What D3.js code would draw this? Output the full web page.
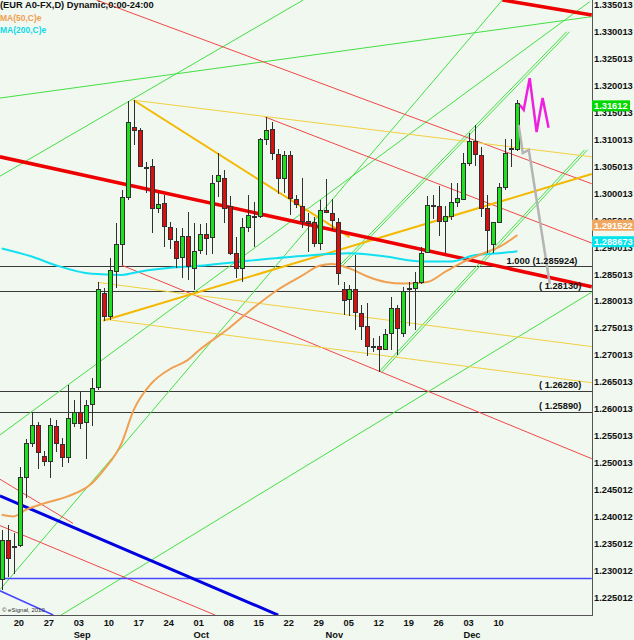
<!DOCTYPE html>
<html lang="en">
<head>
<meta charset="UTF-8">
<title>EUR A0-FX daily</title>
<style>
  body { margin: 0; background: #f0f8f0; }
  svg { display: block; font-family: "Liberation Sans", Arial, sans-serif; }
  .lab { font-size: 9.3px; font-weight: bold; fill: #111; }
</style>
</head>
<body>
<script src="https://cdn.jsdelivr.net/npm/d3@7"></script>
<script>
var W = 634, H = 640, PR = 592, PB = 615;

// daily candles, 16 Aug - 14 Dec
var opens  = [1.2278,1.2351,1.2338,1.2341,1.2468,1.2531,1.2564,1.2507,1.2497,1.2562,1.2529,1.2505,1.2567,1.2588,1.2569,1.2603,1.2634,1.2809,1.2766,1.2850,
              1.2900,1.2987,1.3117,1.3110,1.3043,1.3044,1.2967,1.2975,1.2931,1.2905,1.2876,1.2915,1.2855,1.2889,1.2917,1.2912,1.3016,1.3021,1.2969,1.2883,
              1.2855,1.2931,1.2950,1.2951,1.3094,1.3113,1.3066,1.3021,1.3064,1.2983,1.2970,1.2942,1.2940,1.2902,1.2962,1.2956,1.2940,1.2816,1.2798,1.2815,
              1.2772,1.2747,1.2709,1.2710,1.2705,1.2734,1.2781,1.2734,1.2815,1.2818,1.2829,1.2884,1.2969,1.2970,1.2942,1.2952,1.2977,1.2983,1.3050,1.3090,
              1.3064,1.2967,1.2899,1.2940,1.3006,1.3075,1.3076];
var highs  = [1.2369,1.2379,1.2364,1.2487,1.2538,1.2589,1.2570,1.2516,1.2577,1.2574,1.2540,1.2639,1.2611,1.2627,1.2611,1.2651,1.2829,1.2819,1.2874,1.2939,
              1.3001,1.3165,1.3167,1.3115,1.3053,1.3058,1.2995,1.2991,1.2942,1.2930,1.2930,1.2960,1.2940,1.2937,1.2939,1.3029,1.3069,1.3038,1.2990,1.2914,
              1.2948,1.2991,1.2979,1.3097,1.3136,1.3127,1.3076,1.3073,1.3073,1.2991,1.3022,1.2957,1.2951,1.2982,1.3021,1.2983,1.2948,1.2829,1.2824,1.2880,
              1.2787,1.2790,1.2725,1.2730,1.2742,1.2802,1.2787,1.2821,1.2830,1.2849,1.2895,1.2990,1.2991,1.3008,1.2970,1.3013,1.3013,1.3069,1.3107,1.3121,
              1.3081,1.2991,1.2941,1.3014,1.3095,1.3095,1.3168];
var lows   = [1.2258,1.2282,1.2289,1.2338,1.2429,1.2524,1.2483,1.2488,1.2466,1.2515,1.2487,1.2494,1.2561,1.2557,1.2501,1.2563,1.2629,1.2757,1.2760,1.2818,
              1.2861,1.2982,1.3084,1.3043,1.2995,1.2921,1.2957,1.2894,1.2891,1.2856,1.2837,1.2834,1.2815,1.2882,1.2880,1.2882,1.2987,1.2939,1.2880,1.2837,
              1.2830,1.2923,1.2895,1.2948,1.3084,1.3056,1.2993,1.2994,1.2954,1.2967,1.2930,1.2886,1.2895,1.2889,1.2957,1.2926,1.2824,1.2769,1.2767,1.2741,
              1.2722,1.2692,1.2700,1.2663,1.2704,1.2704,1.2694,1.2728,1.2748,1.2741,1.2826,1.2883,1.2946,1.2915,1.2884,1.2945,1.2969,1.2981,1.3045,1.3045,
              1.2951,1.2883,1.2884,1.2939,1.3001,1.3043,1.3072];
var closes = [1.2351,1.2317,1.2339,1.2468,1.2531,1.2563,1.2513,1.2497,1.2564,1.2531,1.2504,1.2577,1.2588,1.2567,1.2601,1.2632,1.2816,1.2765,1.2852,1.2900,
              1.2987,1.3126,1.3111,1.3044,1.3041,1.2967,1.2973,1.2933,1.2908,1.2874,1.2915,1.2858,1.2887,1.2917,1.2911,1.3013,1.3027,1.2967,1.2883,1.2855,
              1.2930,1.2954,1.2952,1.3094,1.3111,1.3068,1.3021,1.3064,1.2985,1.2973,1.2942,1.2938,1.2902,1.2962,1.2959,1.2944,1.2845,1.2796,1.2815,1.2773,
              1.2748,1.2711,1.2711,1.2705,1.2733,1.2781,1.2744,1.2812,1.2817,1.2829,1.2883,1.2971,1.2971,1.2942,1.2951,1.2977,1.2985,1.3050,1.3090,1.3066,
              1.2967,1.2926,1.2940,1.3006,1.3069,1.3077,1.3161];

var weekTicks  = [2,7,12,17,22,27,32,37,42,47,52,57,62,67,72,77,82];
var weekLabels = ["20","27","03","10","17","24","01","08","15","22","29","05","12","19","26","03","10"];
var monthTicks  = [12,32,54,77];
var monthLabels = ["Sep","Oct","Nov","Dec"];
var priceLabels = ["1.335013","1.330013","1.325013","1.320013","1.315013","1.310013","1.305013","1.300013","1.295013","1.290013","1.285013","1.280013",
                   "1.275013","1.270013","1.265013","1.260013","1.255013","1.250013","1.245012","1.240012","1.235012","1.230012","1.225012"];

var ma50Idx  = [0,2,4,7,11,15,17,20,22,25,28,31,33,38,42,46,50,53,55,58,61,64,67,71,74,77,81,83,86];
var ma50Val  = [1.2398,1.2395,1.2407,1.2419,1.2432,1.2456,1.2481,1.2531,1.2592,1.2642,1.2668,1.2685,1.2704,1.2745,1.2782,1.2815,1.2841,1.2860,1.2863,1.2855,
                1.2840,1.2830,1.2827,1.2830,1.2849,1.2867,1.2886,1.2895,1.2917];
var ma200Idx = [0,5,9,15,20,23,29,33,40,50,58,64,70,75,79,83,86];
var ma200Val = [1.2892,1.2877,1.2861,1.2845,1.2843,1.2849,1.2857,1.2860,1.2868,1.2878,1.2883,1.2877,1.2868,1.2868,1.2880,1.2883,1.2887];

var levels    = [1.285924, 1.2813, 1.2628, 1.2589];
var levelText = ["1.000 (1.285924)", "( 1.28130)", "( 1.26280)", "( 1.25890)"];
var levelTextIdx = [84.2, 89.6, 89.6, 89.6];

// drawn trend lines, each [[bar, price], [bar, price]]
var redThick   = [[[-0.3,1.3062],[98.4,1.2821]], [[83.5,1.3353],[98.4,1.3325]]];
var redThin    = [[[15.8,1.3353],[98.4,1.3012]], [[43.9,1.3136],[98.4,1.2902]], [[20,1.2861],[98.4,1.2502]],
                  [[-0.3,1.2464],[11.9,1.2382]], [[-0.3,1.2378],[35.6,1.2212]]];
var yellowThin = [[[22,1.3167],[98.4,1.3062]], [[16,1.2829],[98.4,1.2710]], [[17,1.2761],[98.4,1.2643]]];
var yellowThick= [[[22,1.3167],[58,1.2913]], [[16.9,1.2758],[98.4,1.3030]]];
var greenThin  = [[[-0.3,1.3026],[50.3,1.3353]], [[-0.3,1.3171],[98.4,1.3322]], [[-0.3,1.2546],[98.1,1.3350]],
                  [[-0.3,1.2259],[83.5,1.3353]], [[9.9,1.2212],[98.4,1.2811]],
                  [[56.4,1.2861],[94.2,1.3294]], [[56.9,1.2861],[94.7,1.3294]],
                  [[62.9,1.2663],[97.2,1.3075]], [[63.4,1.2663],[97.7,1.3075]]];
var blueThick  = [[[-0.3,1.2433],[46.1,1.2212]]];
var blueThin   = [[[-0.3,1.2280],[98.4,1.2280]], [[-0.3,1.2257],[8.6,1.2212]]];

var projGrayIdx = [86.2, 86.9, 87.9, 91.4];
var projGrayVal = [1.3121, 1.3069, 1.3075, 1.2826];
var projPinkIdx = [86.4, 87.05, 88.05, 89.2, 90.2, 91.2];
var projPinkVal = [1.3158, 1.3149, 1.3208, 1.3108, 1.3171, 1.3116];

var lastClose = 1.31612, ma50Last = 1.291522, ma200Last = 1.288673;

var x = d3.scaleLinear().domain([0, 86]).range([1.7, 517.4]);
var y = d3.scaleLinear().domain([1.225012, 1.335013]).range([594.5, 1.5]);

var svg = d3.select("body").append("svg").attr("width", W).attr("height", H);
svg.append("rect").attr("width", W).attr("height", H).attr("fill", "#f0f8f0");
svg.append("clipPath").attr("id", "plot").append("rect").attr("width", PR).attr("height", PB);

var g = svg.append("g").attr("clip-path", "url(#plot)");

// horizontal levels
g.selectAll(".lvl").data(levels).enter().append("line")
  .attr("x1", 0).attr("x2", PR)
  .attr("y1", function(d){ return Math.round(y(d)) + 0.5; })
  .attr("y2", function(d){ return Math.round(y(d)) + 0.5; })
  .attr("stroke", "#3a3a3a").attr("stroke-width", 1);

function drawLines(list, color, w) {
  g.append("g").selectAll("line").data(list).enter().append("line")
    .attr("x1", function(d){ return x(d[0][0]); }).attr("y1", function(d){ return y(d[0][1]); })
    .attr("x2", function(d){ return x(d[1][0]); }).attr("y2", function(d){ return y(d[1][1]); })
    .attr("stroke", color).attr("stroke-width", w);
}
drawLines(greenThin, "#44e044", 1);
drawLines(redThin, "#f04848", 1);
drawLines(yellowThin, "#f2d040", 1);
drawLines(blueThin, "#4848ff", 1.5);
drawLines(blueThick, "#0000e0", 3);
drawLines(yellowThick, "#f4b800", 2);
drawLines(redThick, "#ee0000", 3.5);

// moving averages
var line = d3.line().curve(d3.curveMonotoneX);
g.append("path")
  .attr("d", line(ma200Idx.map(function(d, i){ return [x(d), y(ma200Val[i])]; })))
  .attr("fill", "none").attr("stroke", "#10e0f0").attr("stroke-width", 2);
g.append("path")
  .attr("d", line(ma50Idx.map(function(d, i){ return [x(d), y(ma50Val[i])]; })))
  .attr("fill", "none").attr("stroke", "#f0a050").attr("stroke-width", 2);

// candles
var idx = d3.range(opens.length);
var cg = g.append("g").attr("shape-rendering", "crispEdges");
cg.selectAll(".wick").data(idx).enter().append("line")
  .attr("x1", function(i){ return Math.round(x(i)) + 0.5; })
  .attr("x2", function(i){ return Math.round(x(i)) + 0.5; })
  .attr("y1", function(i){ return y(highs[i]); })
  .attr("y2", function(i){ return y(lows[i]); })
  .attr("stroke", "#303030");
cg.selectAll(".body").data(idx).enter().append("rect")
  .attr("x", function(i){ return Math.round(x(i)) - 1.5; })
  .attr("width", 4)
  .attr("y", function(i){ return y(Math.max(opens[i], closes[i])); })
  .attr("height", function(i){ return Math.max(1, Math.abs(y(opens[i]) - y(closes[i]))); })
  .attr("fill", function(i){ return closes[i] >= opens[i] ? "#1ee01e" : "#d81010"; })
  .attr("stroke", "#303030");

// forecast paths
g.append("path")
  .attr("d", d3.line()(projGrayIdx.map(function(d, i){ return [x(d), y(projGrayVal[i])]; })))
  .attr("fill", "none").attr("stroke", "#b4b4b4").attr("stroke-width", 2.5);
g.append("path")
  .attr("d", d3.line()(projPinkIdx.map(function(d, i){ return [x(d), y(projPinkVal[i])]; })))
  .attr("fill", "none").attr("stroke", "#f020e0").attr("stroke-width", 2.5);

// level captions
g.selectAll(".lvt").data(levels).enter().append("text")
  .attr("class", "lab")
  .attr("x", function(d, i){ return x(levelTextIdx[i]); })
  .attr("y", function(d){ return y(d) - 2.5; })
  .text(function(d, i){ return levelText[i]; });

// frame
svg.append("line").attr("x1", PR + 0.5).attr("x2", PR + 0.5).attr("y1", 0).attr("y2", PB + 1)
  .attr("stroke", "#555");
svg.append("line").attr("x1", 0).attr("x2", PR).attr("y1", PB + 0.5).attr("y2", PB + 0.5)
  .attr("stroke", "#555");

// price axis
var yAxis = d3.axisRight(y)
  .tickValues(priceLabels.map(Number))
  .tickFormat(function(d, i){ return priceLabels[i]; })
  .tickSize(0).tickPadding(2);
var ya = svg.append("g").attr("transform", "translate(" + PR + ",3)").call(yAxis);
ya.select(".domain").remove();
ya.selectAll("text").attr("class", "lab").attr("font-family", null).attr("font-size", null)
  .attr("fill", null);

// time axis
var xAxis = d3.axisBottom(x).tickValues(weekTicks)
  .tickFormat(function(d, i){ return weekLabels[i]; }).tickSize(0).tickPadding(4);
var xa = svg.append("g").attr("transform", "translate(0," + PB + ")").call(xAxis);
xa.select(".domain").remove();
xa.selectAll("text").attr("class", "lab").attr("font-family", null).attr("font-size", null)
  .attr("fill", null).attr("text-anchor", "start").attr("dx", -0.5);

svg.selectAll(".mon").data(monthTicks).enter().append("text")
  .attr("class", "lab")
  .attr("x", function(d){ return x(d); }).attr("y", 638)
  .text(function(d, i){ return monthLabels[i]; });

// value boxes
var boxes = [
  { v: lastClose, txt: "1.31612", fill: "#00d800", off: 2.5, w: 38 },
  { v: ma50Last, txt: "1.291522", fill: "#f0a860", off: -10.7, w: 42 },
  { v: ma200Last, txt: "1.288673", fill: "#00e4ec", off: -9.6, w: 42 }
];
var bx = svg.selectAll(".box").data(boxes).enter().append("g")
  .attr("transform", function(d){ return "translate(" + PR + "," + (y(d.v) + d.off) + ")"; });
bx.append("rect").attr("x", 0).attr("y", -5.5).attr("height", 11)
  .attr("width", function(d){ return d.w; }).attr("fill", function(d){ return d.fill; });
bx.append("text").attr("class", "lab").attr("x", 2).attr("y", 3.5)
  .style("fill", "#fff").text(function(d){ return d.txt; });

// header
svg.append("text").attr("class", "lab").attr("x", 0).attr("y", 8)
  .text("(EUR A0-FX,D) Dynamic,0:00-24:00");
svg.append("text").attr("x", 0).attr("y", 20.5).attr("font-size", 8.5)
  .attr("fill", "#f0a050").attr("font-weight", "bold").text("MA(50,C)e");
svg.append("text").attr("x", 0).attr("y", 33).attr("font-size", 8.5)
  .attr("fill", "#10d8e8").attr("font-weight", "bold").text("MA(200,C)e");
svg.append("text").attr("x", 2).attr("y", 612).attr("font-size", 6)
  .attr("fill", "#333").text("\u00a9 eSignal, 2010");
</script>
</body>
</html>
